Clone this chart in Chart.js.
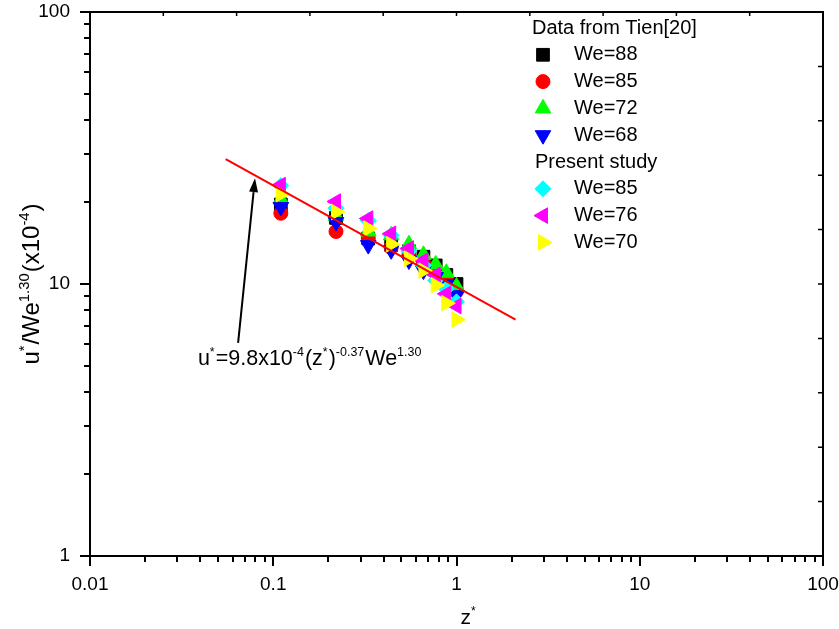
<!DOCTYPE html>
<html>
<head>
<meta charset="utf-8">
<script src="https://cdn.jsdelivr.net/npm/chart.js@4/dist/chart.umd.min.js"></script>
<style>
  html, body { margin: 0; padding: 0; background: #fff; }
  #wrap { width: 839px; height: 629px; }
</style>
</head>
<body>
<div id="wrap"><canvas id="velChart" width="839" height="629"></canvas></div>
<script>
// Dimensionless positions z* shared by every series
const zStar = [0.11, 0.22, 0.33, 0.44, 0.55, 0.66, 0.77, 0.88, 1.0];

// Data from Tien[20]
const tienWe88 = [19.6, 17.5, 14.7, 13.9, 13.2, 12.6, 11.7, 10.8, 10.0];
const tienWe85 = [18.2, 15.6, 14.7, 13.6, 12.8, 12.0, 11.2, 10.4, 9.4];
const tienWe72 = [20.5, 17.8, 15.6, 15.1, 14.0, 12.8, 11.8, 11.0, 9.8];
const tienWe68 = [19.2, 16.9, 13.9, 13.3, 12.2, 11.2, 10.6, 10.0, 9.1];

// Present study
const studyWe85 = [23.0, 19.0, 17.1, 15.1, 13.2, 11.7, 10.3, 9.6, 8.6];
const studyWe76 = [23.1, 20.1, 17.4, 15.3, 13.5, 12.2, 10.8, 9.2, 8.3];
const studyWe70 = [21.4, 18.4, 16.0, 14.0, 12.4, 11.2, 9.9, 8.5, 7.4];

// Correlation u* = 9.8e-4 (z*)^-0.37 We^1.30, end points of the drawn segment
const fitZ = [0.055, 2.1];
const fitU = [28.8, 7.4];

// Arrow pointing at the correlation line (from label to line)
const arrowFrom = [0.0643, 6.07];
const arrowTo = [0.0795, 24.5];
const noteAt = [0.0388, 5.03];

const xTickValues = [0.01, 0.1, 1, 10, 100];
const yTickValues = [1, 10, 100];

const FONT = "'Liberation Sans', Arial, Helvetica, sans-serif";

const toPts = ys => ys.map((y, i) => ({ x: zStar[i], y: y }));

function series(label, ys, color, style, rot, radius, order) {
    return {
        label: label,
        data: toPts(ys),
        backgroundColor: color,
        borderColor: color,
        borderWidth: 1,
        pointStyle: style,
        pointRotation: rot,
        pointRadius: radius,
        pointHoverRadius: radius,
        order: order
    };
}

const tienSets = [
    series('We=88', tienWe88, '#000000', 'rect', 0, 9, 7),
    series('We=85', tienWe85, '#ff0000', 'circle', 0, 7, 6),
    series('We=72', tienWe72, '#00ff00', 'triangle', 0, 9, 5),
    series('We=68', tienWe68, '#0000ff', 'triangle', 180, 9, 4)
];
const studySets = [
    series('We=85', studyWe85, '#00ffff', 'rectRot', 0, 8, 3),
    series('We=76', studyWe76, '#ff00ff', 'triangle', 270, 9, 2),
    series('We=70', studyWe70, '#ffff00', 'triangle', 90, 9, 1)
];

// draws text runs where some pieces are superscripts
function richWidth(ctx, parts, size, supScale) {
    let w = 0;
    parts.forEach(p => {
        ctx.font = (p[1] ? size * supScale : size) + 'px ' + FONT;
        w += ctx.measureText(p[0]).width + (p[1] ? 1 : 0);
    });
    return w;
}
function drawRich(ctx, parts, x, y, size, supScale) {
    let cx = x;
    ctx.textBaseline = 'alphabetic';
    ctx.textAlign = 'left';
    parts.forEach(p => {
        const s = p[1] ? size * supScale : size;
        ctx.font = s + 'px ' + FONT;
        ctx.fillText(p[0], cx, p[1] ? y - size * 0.42 : y);
        cx += ctx.measureText(p[0]).width + (p[1] ? 1 : 0);
    });
}

const axesPlugin = {
    id: 'axesFrame',
    afterDraw(chart) {
        const ctx = chart.ctx;
        const a = chart.chartArea;
        const xs = chart.scales.x, ys = chart.scales.y;
        ctx.save();
        ctx.strokeStyle = '#000';
        ctx.fillStyle = '#000';

        // log ticks on bottom and left, pointing outward
        ctx.lineWidth = 2;
        ctx.beginPath();
        for (let e = -2; e <= 2; e++) {
            for (let m = 1; m <= 9; m++) {
                const v = m * Math.pow(10, e);
                if (v > xs.max * 1.0001) break;
                const px = Math.round(xs.getPixelForValue(v));
                const len = m === 1 ? 10 : 6;
                ctx.moveTo(px, a.bottom);
                ctx.lineTo(px, a.bottom + len);
            }
        }
        for (let e = 0; e <= 2; e++) {
            for (let m = 1; m <= 9; m++) {
                const v = m * Math.pow(10, e);
                if (v > ys.max * 1.0001) break;
                const py = Math.round(ys.getPixelForValue(v));
                const len = m === 1 ? 10 : 6;
                ctx.moveTo(a.left, py);
                ctx.lineTo(a.left - len, py);
            }
        }
        ctx.stroke();

        // plain divisions on top and right, pointing inward
        ctx.lineWidth = 1.5;
        ctx.beginPath();
        for (let i = 1; i < 10; i++) {
            const px = a.left + (a.right - a.left) * i / 10;
            ctx.moveTo(px, a.top);
            ctx.lineTo(px, a.top + 4);
            const py = a.top + (a.bottom - a.top) * i / 10;
            ctx.moveTo(a.right, py);
            ctx.lineTo(a.right - 5, py);
        }
        ctx.stroke();

        ctx.lineWidth = 2;
        ctx.strokeRect(a.left, a.top, a.right - a.left, a.bottom - a.top);

        // arrow from the label up to the line
        const x0 = xs.getPixelForValue(arrowFrom[0]), y0 = ys.getPixelForValue(arrowFrom[1]);
        const x1 = xs.getPixelForValue(arrowTo[0]), y1 = ys.getPixelForValue(arrowTo[1]);
        const ang = Math.atan2(y1 - y0, x1 - x0);
        const head = 14, half = 4.5;
        const bx = x1 - head * Math.cos(ang), by = y1 - head * Math.sin(ang);
        ctx.beginPath();
        ctx.moveTo(x0, y0);
        ctx.lineTo(bx, by);
        ctx.stroke();
        ctx.beginPath();
        ctx.moveTo(x1, y1);
        ctx.lineTo(bx + half * Math.sin(ang), by - half * Math.cos(ang));
        ctx.lineTo(bx - half * Math.sin(ang), by + half * Math.cos(ang));
        ctx.closePath();
        ctx.fill();

        // correlation label
        drawRich(ctx, [['u', 0], ['*', 1], ['=9.8x10', 0], ['-4', 1], ['(z', 0], ['*', 1],
            [')', 0], ['-0.37', 1], ['We', 0], ['1.30', 1]],
            xs.getPixelForValue(noteAt[0]), ys.getPixelForValue(noteAt[1]), 21.5, 0.58);

        // axis titles
        drawRich(ctx, [['z', 0], ['*', 1]], (a.left + a.right) / 2 + 4, 624, 21, 0.58);
        const yParts = [['u', 0], ['*', 1], ['/We', 0], ['1.30', 1], ['(x10', 0], ['-4', 1], [')', 0]];
        const tw = richWidth(ctx, yParts, 24, 0.62);
        ctx.translate(39, (a.top + a.bottom) / 2);
        ctx.rotate(-Math.PI / 2);
        drawRich(ctx, yParts, -tw / 2, 0, 24, 0.62);
        ctx.restore();

        // legend with two groups
        ctx.save();
        const lx = 532, mx = 543, tx = 574, row = 26.8;
        let yy = 28;
        const drawGroup = (title, sets, titleX) => {
            ctx.fillStyle = '#000';
            ctx.font = '20px ' + FONT;
            ctx.textAlign = 'left';
            ctx.textBaseline = 'middle';
            ctx.fillText(title, titleX, yy);
            yy += row;
            sets.forEach(ds => {
                ctx.fillStyle = ds.backgroundColor;
                ctx.strokeStyle = ds.borderColor;
                ctx.lineWidth = 1;
                Chart.helpers.drawPoint(ctx, {
                    pointStyle: ds.pointStyle,
                    rotation: ds.pointRotation,
                    radius: ds.pointRadius,
                    borderWidth: 1
                }, mx, yy);
                ctx.fillStyle = '#000';
                ctx.font = '20px ' + FONT;
                ctx.textBaseline = 'middle';
                ctx.fillText(ds.label, tx, yy);
                yy += row;
            });
        };
        drawGroup('Data from Tien[20]', tienSets, lx);
        drawGroup('Present study', studySets, lx + 3);
        ctx.restore();
    }
};

new Chart(document.getElementById('velChart'), {
    type: 'scatter',
    data: {
        datasets: [
            {
                label: 'fit',
                data: fitZ.map((z, i) => ({ x: z, y: fitU[i] })),
                showLine: true,
                borderColor: '#ff0000',
                borderWidth: 2,
                pointRadius: 0,
                fill: false,
                order: 0
            },
            ...tienSets,
            ...studySets
        ]
    },
    options: {
        responsive: false,
        animation: false,
        events: [],
        layout: { padding: { top: 12, right: 16, left: 0, bottom: 0 } },
        plugins: {
            legend: { display: false },
            tooltip: { enabled: false }
        },
        scales: {
            x: {
                type: 'logarithmic',
                min: 0.01,
                max: 100,
                grid: { display: false, drawTicks: false },
                border: { display: false },
                afterBuildTicks: s => { s.ticks = xTickValues.map(v => ({ value: v })); },
                afterFit: s => { s.height = 73; s.paddingLeft = 0; s.paddingRight = 0; },
                ticks: {
                    autoSkip: false,
                    maxRotation: 0,
                    padding: 17,
                    color: '#000',
                    font: { family: FONT, size: 19 },
                    callback: v => String(v)
                }
            },
            y: {
                type: 'logarithmic',
                min: 1,
                max: 100,
                grid: { display: false, drawTicks: false },
                border: { display: false },
                afterBuildTicks: s => { s.ticks = yTickValues.map(v => ({ value: v })); },
                afterFit: s => { s.width = 90; s.paddingTop = 0; s.paddingBottom = 0; },
                ticks: {
                    autoSkip: false,
                    padding: 20,
                    color: '#000',
                    font: { family: FONT, size: 19 },
                    callback: v => String(v)
                }
            }
        }
    },
    plugins: [axesPlugin]
});
</script>
</body>
</html>
